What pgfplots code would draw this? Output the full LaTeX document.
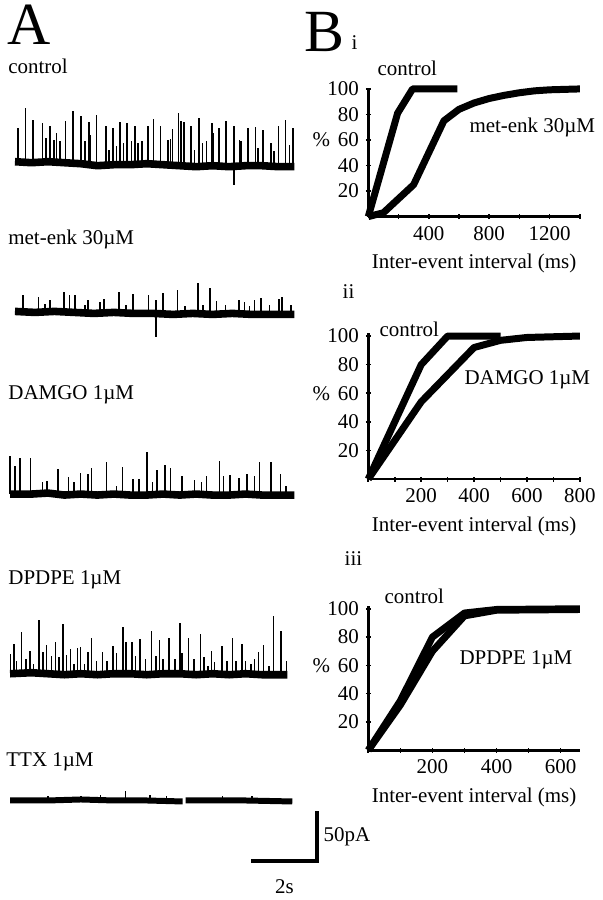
\documentclass[border=0pt]{standalone}
\usepackage{fontspec}
\setmainfont{Liberation Serif}
\usepackage{pgfplots}
\pgfplotsset{compat=1.18}

\newcommand{\lab}{\fontsize{10.5}{12}\selectfont}
\newcommand{\panel}{\fontsize{30}{30}\selectfont}

% spikes of each trace: time (s), amplitude (pA)
\pgfplotstableread{
t h
0.10 35
0.32 55
0.54 43
0.84 40
0.94 25
1.06 37
1.18 23
1.26 30
1.36 22
1.54 42
1.77 52
2.00 47
2.12 22
2.24 41
2.29 28
2.47 48
2.76 37
2.86 13
2.98 35
3.08 17
3.18 41
3.30 20
3.41 40
3.54 22
3.64 37
3.74 20
3.86 22
4.04 37
4.21 44
4.42 37
4.65 23
4.72 24
4.78 34
4.97 50
5.05 42
5.13 41
5.35 37
5.45 13
5.58 45
5.69 20
5.81 22
5.99 40
6.03 30
6.19 35
6.41 42
6.65 37
6.65 -22
6.82 23
6.87 22
7.07 35
7.30 36
7.37 15
7.53 33
7.78 20
7.86 12
8.00 37
8.21 43
8.33 18
8.45 35
}\ctrlspikes

\pgfplotstableread{
t h
0.25 17
0.71 15
0.91 8
1.06 12
1.48 20
1.65 17
1.82 17
2.12 7
2.22 12
2.58 10
2.70 13
3.15 20
3.38 7
3.59 18
4.06 17
4.29 12
4.29 -25
4.49 19
4.93 22
5.16 6
5.56 29
5.71 7
5.93 24
6.12 11
6.39 7
6.80 12
6.97 10
7.12 6
7.27 12
7.47 14
7.73 7
8.01 13
8.11 15
8.38 7
}\enkspikes

\pgfplotstableread{
t h
-0.15 38
0.00 28
0.15 36
0.47 36
0.84 12
0.98 13
1.31 25
1.62 17
1.79 12
1.99 21
2.22 20
2.32 26
2.78 32
3.08 8
3.26 27
3.59 15
3.76 15
4.01 42
4.17 12
4.31 24
4.55 29
4.72 26
5.08 18
5.45 14
5.66 12
5.81 18
6.21 33
6.33 18
6.52 19
6.80 16
7.05 20
7.27 18
7.42 32
7.78 32
8.06 20
8.23 8
}\damgospikes

\pgfplotstableread{
t h
-0.13 20
-0.03 30
0.05 13
0.20 42
0.33 15
0.45 23
0.56 10
0.73 54
0.86 22
0.96 29
1.11 18
1.23 32
1.33 17
1.45 50
1.57 19
1.69 25
1.79 10
1.90 26
1.99 27
2.11 10
2.22 22
2.32 36
2.47 13
2.66 22
2.80 13
2.98 28
3.08 21
3.28 47
3.38 32
3.55 32
3.66 18
3.79 35
3.96 15
4.15 43
4.29 18
4.39 34
4.49 15
4.68 36
4.85 15
5.01 51
5.08 21
5.27 36
5.43 15
5.63 40
5.74 17
5.86 8
5.97 23
6.06 12
6.29 28
6.44 13
6.60 36
6.72 13
6.90 30
7.00 13
7.17 10
7.27 15
7.40 22
7.55 29
7.71 8
7.85 58
8.08 43
8.25 13
}\dpdpespikes

\pgfplotstableread{
t h
1.00 4
2.00 4
2.60 5
3.36 10
4.10 5
4.60 4
6.30 4
7.20 4
}\ttxspikes

\pgfplotsset{
  trace/.style={hide axis, scale only axis, width=165pt, height=70pt,
    xmin=-0.4, xmax=9.6, ymin=-70, ymax=70, clip=false, anchor=south west},
  spk/.style={ycomb, mark=none, black, line width=0.8pt},
  base/.style={black, line width=3.8pt, line join=round},
  cdf/.style={scale only axis, width=106pt, anchor=south west, clip=false,
    axis lines=left, axis line style={-, line width=1.3pt},
    tick style={black, line width=0.8pt}, major tick length=2.5pt, tick align=center,
    xtick pos=left, ytick pos=left, ymin=0, ytick={20,40,60,80,100},
    /pgf/number format/assume math mode=true, /pgf/number format/1000 sep={},
    tick label style={font=\lab}, label style={font=\lab},
    xlabel={Inter-event interval (ms)}},
  curve/.style={black, line width=3.5pt, line join=round}
}

\begin{document}
\begin{tikzpicture}
\begin{scope}[x=0.5pt, y=-0.5pt]
\useasboundingbox (0,0) rectangle (602,900);
\node[anchor=base west, inner sep=0] at (7,45) {\panel A};
\node[anchor=base west, inner sep=0] at (305,52) {\panel B};
\node[anchor=base west, inner sep=0] at (352,50) {\lab i};
\node[anchor=base west, inner sep=0] at (343,299) {\lab ii};
\node[anchor=base west, inner sep=0] at (345,567) {\lab iii};
\node[anchor=base west, inner sep=0] at (8,74) {\lab control};
\node[anchor=base west, inner sep=0] at (8,245) {\lab met-enk 30µM};
\node[anchor=base west, inner sep=0] at (8,400) {\lab DAMGO 1µM};
\node[anchor=base west, inner sep=0] at (8,586) {\lab DPDPE 1µM};
\node[anchor=base west, inner sep=0] at (6,768) {\lab TTX 1µM};
\node[anchor=base west, inner sep=0] at (378,76) {\lab control};
\node[anchor=base west, inner sep=0] at (470,133) {\lab met-enk 30µM};
\node[anchor=base west, inner sep=0] at (380,337) {\lab control};
\node[anchor=base west, inner sep=0] at (465,385) {\lab DAMGO 1µM};
\node[anchor=base west, inner sep=0] at (385,605) {\lab control};
\node[anchor=base west, inner sep=0] at (460,666) {\lab DPDPE 1µM};
\node at (322,140) {\lab\%};
\node at (322,394) {\lab\%};
\node at (322,667) {\lab\%};
\end{scope}

% ---- A: traces ----
\begin{axis}[trace, at={(0.9pt,-116.5pt)}]
\addplot[spk] table {\ctrlspikes};
\addplot[base] coordinates {(0,1) (0.5,0) (1,1) (1.5,0) (2,-1) (2.5,-3) (3,-2) (3.5,-2) (4,-1) (4.5,-2) (5,-3) (5.5,-4) (6,-3) (6.5,-4) (7,-3) (7.5,-3) (8,-4) (8.48,-4)};
\end{axis}

\begin{axis}[trace, at={(0.9pt,-191.5pt)}]
\addplot[spk] table {\enkspikes};
\addplot[base] coordinates {(0,1) (0.6,0) (1.2,1) (1.8,0) (2.4,-1) (3,0) (3.6,-1) (4.2,-1) (4.8,-2) (5.4,-1) (6,-2) (6.6,-1) (7.2,-2) (7.8,-2) (8.48,-2)};
\end{axis}

\begin{axis}[trace, at={(0.9pt,-282.5pt)}]
\addplot[spk] table {\damgospikes};
\addplot[base] coordinates {(-0.15,0) (0.5,0) (1,1) (1.5,-1) (2,0) (2.5,-1) (3,0) (3.5,-1) (4,-1) (4.5,0) (5,-1) (5.5,0) (6,-1) (6.5,-1) (7,0) (7.5,-1) (8,-1) (8.48,-1)};
\end{axis}

\begin{axis}[trace, at={(0.9pt,-372.5pt)}]
\addplot[spk] table {\dpdpespikes};
\addplot[base] coordinates {(-0.15,0) (0.5,1) (1,0) (1.5,-1) (2,0) (2.5,-1) (3,0) (3.5,0) (4,-1) (4.5,0) (5,0) (5.5,-1) (6,0) (6.5,-1) (7,0) (7.5,-1) (8.27,-1)};
\end{axis}

\begin{axis}[trace, at={(0.9pt,-436pt)}]
\addplot[spk] table {\ttxspikes};
\addplot[black, line width=3pt] coordinates {(-0.15,0) (1,0) (2,1) (3,0) (4,0) (5.09,-1)};
\addplot[black, line width=3pt] coordinates {(5.18,0) (6,0) (7,0) (8.42,-1)};
% scale bar: 2 s, 50 pA
\addplot[black, line width=2pt, line join=miter] coordinates {(7.18,-61) (9.18,-61) (9.18,-11)};
\node[anchor=west, inner sep=1pt] at (axis cs:9.3,-36) {\lab 50pA};
\node at (axis cs:8.18,-86) {\lab 2s};
\end{axis}

% ---- B i ----
\begin{axis}[cdf, at={(184.5pt,-108.5pt)}, height=64.6pt,
  xmin=0, xmax=1400, ymax=101,
  xtick={200,400,...,1400}, xticklabels={,400,,800,,1200,}]
\addplot[curve] coordinates {(0,0) (194,81) (293,100) (590,100)};
\addplot[curve] coordinates {(0,0) (100,3) (300,25) (500,75) (600,84) (700,89) (800,92.5) (900,95) (1000,97) (1100,98.5) (1200,99.3) (1400,100)};
\end{axis}

% ---- B ii ----
\begin{axis}[cdf, at={(184.5pt,-240pt)}, height=73.1pt,
  xmin=0, xmax=800, ymax=102,
  xtick={0,100,...,800}, xticklabels={,,200,,400,,600,,800}]
\addplot[curve] coordinates {(0,0) (100,40) (200,80) (300,100) (500,100)};
\addplot[curve] coordinates {(0,0) (100,27) (200,54) (300,73) (400,92) (500,97) (600,99) (800,100)};
\end{axis}

% ---- B iii ----
\begin{axis}[cdf, at={(184.5pt,-375.85pt)}, height=72.3pt,
  xmin=0, xmax=660, ymax=102,
  xtick={0,100,...,600}, xticklabels={,,200,,400,,600}]
\addplot[curve] coordinates {(0,0) (100,35) (200,80) (300,97) (400,99.5) (660,100)};
\addplot[curve] coordinates {(0,0) (100,32) (200,70) (300,95) (400,99) (660,99.5)};
\end{axis}
\end{tikzpicture}
\end{document}
